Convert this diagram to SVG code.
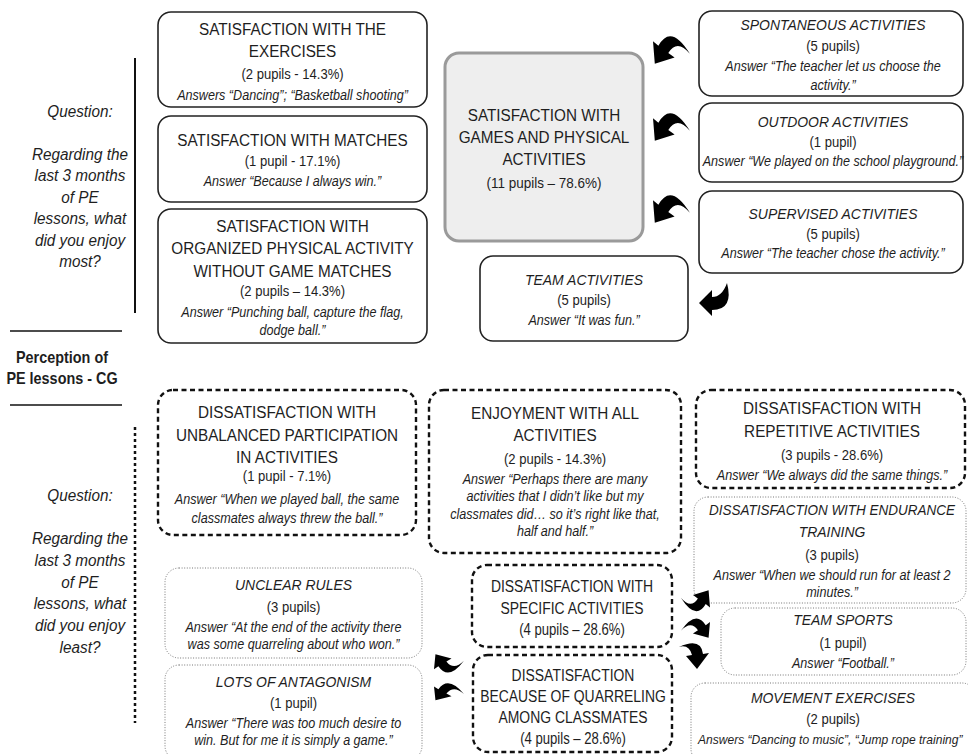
<svg xmlns="http://www.w3.org/2000/svg" width="968" height="754" viewBox="0 0 968 754">
<defs>
<style>
text{font-family:"Liberation Sans",Arial,sans-serif;fill:#1e1e1e;text-anchor:middle}
.t{font-size:17px}
.p{font-size:14.5px}
.a{font-size:14px;font-style:italic}
.s{font-size:15.5px;font-style:italic}
.q{font-size:17px;font-style:italic}
.b{font-size:16px;font-weight:bold}
.solid{fill:#fff;stroke:#222;stroke-width:1.6}
.center{fill:#eeeeee;stroke:#9a9a9a;stroke-width:3}
.dash{fill:#fff;stroke:#111;stroke-width:2.4;stroke-dasharray:5 3.5}
.dot{fill:#fff;stroke:#777;stroke-width:1;stroke-dasharray:1 1.6}
.arr{fill:#000}
</style>
<path id="ca" d="M 2 33 L 0 8 L 6 13 Q 20 -12 41 22 Q 27 5 17 21 L 24 26 Z"/>
</defs>

<g id="side-labels">
<line x1="135" y1="58" x2="135" y2="313" stroke="#111" stroke-width="2"/>
<g transform="translate(80,0) scale(0.9,1)">
<text class="q" x="0" y="117">Question:</text>
<text class="q" x="0" y="160">Regarding the</text>
<text class="q" x="0" y="181">last 3 months</text>
<text class="q" x="0" y="203">of PE</text>
<text class="q" x="0" y="224">lessons, what</text>
<text class="q" x="0" y="246">did you enjoy</text>
<text class="q" x="0" y="267">most?</text>
<text class="b" x="-20" y="363">Perception of</text>
<text class="b" x="-20" y="384">PE lessons - CG</text>
<text class="q" x="0" y="501">Question:</text>
<text class="q" x="0" y="544">Regarding the</text>
<text class="q" x="0" y="566">last 3 months</text>
<text class="q" x="0" y="588">of PE</text>
<text class="q" x="0" y="609">lessons, what</text>
<text class="q" x="0" y="631">did you enjoy</text>
<text class="q" x="0" y="653">least?</text>
</g>
<line x1="10" y1="331" x2="122" y2="331" stroke="#111" stroke-width="1.3"/>
<line x1="10" y1="405" x2="122" y2="405" stroke="#111" stroke-width="1.3"/>
<line x1="135" y1="427" x2="135" y2="723" stroke="#111" stroke-width="2.5" stroke-dasharray="3 3"/>
</g>

<g id="sat-exercises">
<rect class="solid" x="158" y="12" width="269" height="95" rx="13"/>
<g transform="translate(292.5,0) scale(0.9,1)">
<text class="t" x="0" y="35">SATISFACTION WITH THE</text>
<text class="t" x="0" y="57">EXERCISES</text>
<text class="p" x="0" y="79">(2 pupils - 14.3%)</text>
<text class="a" x="0" y="100">Answers “Dancing”; “Basketball shooting”</text>
</g>
</g>

<g id="sat-matches">
<rect class="solid" x="158" y="116" width="269" height="86" rx="13"/>
<g transform="translate(292.5,0) scale(0.9,1)">
<text class="t" x="0" y="146">SATISFACTION WITH MATCHES</text>
<text class="p" x="0" y="166">(1 pupil - 17.1%)</text>
<text class="a" x="0" y="186">Answer “Because I always win.”</text>
</g>
</g>

<g id="sat-organized">
<rect class="solid" x="158" y="209" width="269" height="134" rx="13"/>
<g transform="translate(292.5,0) scale(0.9,1)">
<text class="t" x="0" y="232">SATISFACTION WITH</text>
<text class="t" x="0" y="254">ORGANIZED PHYSICAL ACTIVITY</text>
<text class="t" x="0" y="277">WITHOUT GAME MATCHES</text>
<text class="p" x="0" y="296">(2 pupils – 14.3%)</text>
<text class="a" x="0" y="317">Answer “Punching ball, capture the flag,</text>
<text class="a" x="0" y="335">dodge ball.”</text>
</g>
</g>

<g id="sat-games">
<rect class="center" x="445" y="53" width="198" height="188" rx="14"/>
<g transform="translate(544,0) scale(0.9,1)">
<text class="t" x="0" y="121">SATISFACTION WITH</text>
<text class="t" x="0" y="143">GAMES AND PHYSICAL</text>
<text class="t" x="0" y="165">ACTIVITIES</text>
<text class="p" x="0" y="188" style="font-size:15px">(11 pupils – 78.6%)</text>
</g>
</g>

<g id="spontaneous">
<rect class="solid" x="699" y="11" width="264" height="85" rx="13"/>
<g transform="translate(833,0) scale(0.9,1)">
<text class="s" x="0" y="30">SPONTANEOUS ACTIVITIES</text>
<text class="p" x="0" y="51">(5 pupils)</text>
<text class="a" x="0" y="71">Answer “The teacher let us choose the</text>
<text class="a" x="0" y="90">activity.”</text>
</g>
</g>

<g id="outdoor">
<rect class="solid" x="699" y="103" width="264" height="79" rx="13"/>
<g transform="translate(833,0) scale(0.9,1)">
<text class="s" x="0" y="127">OUTDOOR ACTIVITIES</text>
<text class="p" x="0" y="147">(1 pupil)</text>
<text class="a" x="0" y="166">Answer “We played on the school playground.”</text>
</g>
</g>

<g id="supervised">
<rect class="solid" x="699" y="191" width="264" height="82" rx="13"/>
<g transform="translate(833,0) scale(0.9,1)">
<text class="s" x="0" y="219">SUPERVISED ACTIVITIES</text>
<text class="p" x="0" y="239">(5 pupils)</text>
<text class="a" x="0" y="258">Answer “The teacher chose the activity.”</text>
</g>
</g>

<g id="team-activities">
<rect class="solid" x="480" y="256" width="208" height="85" rx="13"/>
<g transform="translate(584,0) scale(0.9,1)">
<text class="s" x="0" y="285">TEAM ACTIVITIES</text>
<text class="p" x="0" y="305">(5 pupils)</text>
<text class="a" x="0" y="325">Answer “It was fun.”</text>
</g>
</g>

<g id="dis-unbalanced">
<rect class="dash" x="158" y="390" width="258" height="145" rx="15"/>
<g transform="translate(287,0) scale(0.9,1)">
<text class="t" x="0" y="418">DISSATISFACTION WITH</text>
<text class="t" x="0" y="441">UNBALANCED PARTICIPATION</text>
<text class="t" x="0" y="463">IN ACTIVITIES</text>
<text class="p" x="0" y="481">(1 pupil - 7.1%)</text>
<text class="a" x="0" y="504">Answer “When we played ball, the same</text>
<text class="a" x="0" y="523">classmates always threw the ball.”</text>
</g>
</g>

<g id="enjoyment-all">
<rect class="dash" x="429" y="390" width="252" height="163" rx="15"/>
<g transform="translate(555,0) scale(0.9,1)">
<text class="t" x="0" y="419">ENJOYMENT WITH ALL</text>
<text class="t" x="0" y="441">ACTIVITIES</text>
<text class="p" x="0" y="464">(2 pupils - 14.3%)</text>
<text class="a" x="0" y="484">Answer “Perhaps there are many</text>
<text class="a" x="0" y="501">activities that I didn’t like but my</text>
<text class="a" x="0" y="519">classmates did… so it’s right like that,</text>
<text class="a" x="0" y="536">half and half.”</text>
</g>
</g>

<g id="dis-repetitive">
<rect class="dash" x="696" y="390" width="269" height="98" rx="15"/>
<g transform="translate(832,0) scale(0.9,1)">
<text class="t" x="0" y="414">DISSATISFACTION WITH</text>
<text class="t" x="0" y="437">REPETITIVE ACTIVITIES</text>
<text class="p" x="0" y="460">(3 pupils - 28.6%)</text>
<text class="a" x="0" y="480">Answer “We always did the same things.”</text>
</g>
</g>

<g id="dis-endurance">
<rect class="dot" x="694" y="497" width="272" height="106" rx="14"/>
<g transform="translate(832,0) scale(0.9,1)">
<text class="s" x="0" y="515" style="font-size:15px">DISSATISFACTION WITH ENDURANCE</text>
<text class="s" x="0" y="537">TRAINING</text>
<text class="p" x="0" y="560">(3 pupils)</text>
<text class="a" x="0" y="580">Answer “When we should run for at least 2</text>
<text class="a" x="0" y="597">minutes.”</text>
</g>
</g>

<g id="team-sports">
<rect class="dot" x="721" y="608" width="245" height="67" rx="14"/>
<g transform="translate(843,0) scale(0.9,1)">
<text class="s" x="0" y="625">TEAM SPORTS</text>
<text class="p" x="0" y="648">(1 pupil)</text>
<text class="a" x="0" y="668">Answer “Football.”</text>
</g>
</g>

<g id="movement-exercises">
<rect class="dot" x="691" y="683" width="285" height="80" rx="14"/>
<g transform="translate(833,0) scale(0.9,1)">
<text class="s" x="0" y="703">MOVEMENT EXERCISES</text>
<text class="p" x="0" y="724">(2 pupils)</text>
<text class="a" x="-150" y="744" style="text-anchor:start;font-size:13.4px">Answers “Dancing to music”, “Jump rope training”</text>
</g>
</g>

<g id="dis-specific">
<rect class="dash" x="472" y="565" width="200" height="82" rx="15"/>
<g transform="translate(572,0) scale(0.82,1)">
<text class="t" x="0" y="592">DISSATISFACTION WITH</text>
<text class="t" x="0" y="614">SPECIFIC ACTIVITIES</text>
<text class="p" x="0" y="635" style="font-size:16px">(4 pupils – 28.6%)</text>
</g>
</g>

<g id="dis-quarreling">
<rect class="dash" x="473" y="655" width="199" height="97" rx="15"/>
<g transform="translate(573,0) scale(0.82,1)">
<text class="t" x="0" y="681">DISSATISFACTION</text>
<text class="t" x="0" y="702">BECAUSE OF QUARRELING</text>
<text class="t" x="0" y="723">AMONG CLASSMATES</text>
<text class="p" x="0" y="744" style="font-size:16px">(4 pupils – 28.6%)</text>
</g>
</g>

<g id="unclear-rules">
<rect class="dot" x="165" y="568" width="257" height="90" rx="14"/>
<g transform="translate(293.5,0) scale(0.9,1)">
<text class="s" x="0" y="590">UNCLEAR RULES</text>
<text class="p" x="0" y="612">(3 pupils)</text>
<text class="a" x="0" y="632">Answer “At the end of the activity there</text>
<text class="a" x="0" y="649">was some quarreling about who won.”</text>
</g>
</g>

<g id="antagonism">
<rect class="dot" x="165" y="665" width="257" height="95" rx="14"/>
<g transform="translate(293.5,0) scale(0.9,1)">
<text class="s" x="0" y="687">LOTS OF ANTAGONISM</text>
<text class="p" x="0" y="708">(1 pupil)</text>
<text class="a" x="0" y="728">Answer “There was too much desire to</text>
<text class="a" x="0" y="745">win. But for me it is simply a game.”</text>
</g>
</g>

<g id="connectors" class="arr">
<use href="#ca" transform="translate(653,34) scale(0.9)"/>
<use href="#ca" transform="translate(653,111) scale(0.9)"/>
<use href="#ca" transform="translate(653,193) scale(0.9)"/>
<path d="M 699 303 L 712 290 L 712 297 Q 722 297 727 283 Q 734 310 712 310 L 712 316 Z"/>
<use href="#ca" transform="matrix(0.73,0,0,-0.6,434,674)"/>
<use href="#ca" transform="matrix(0.73,0,0,0.55,434,682)"/>
<use href="#ca" transform="matrix(-0.71,0,0,-0.69,710,613)"/>
<use href="#ca" transform="matrix(-0.71,0,0,0.63,710,617)"/>
<path d="M 697 669 L 686 656 L 692 655 Q 689 644 679 647 Q 701 637 703 654 L 709 653 Z"/>
</g>
</svg>
